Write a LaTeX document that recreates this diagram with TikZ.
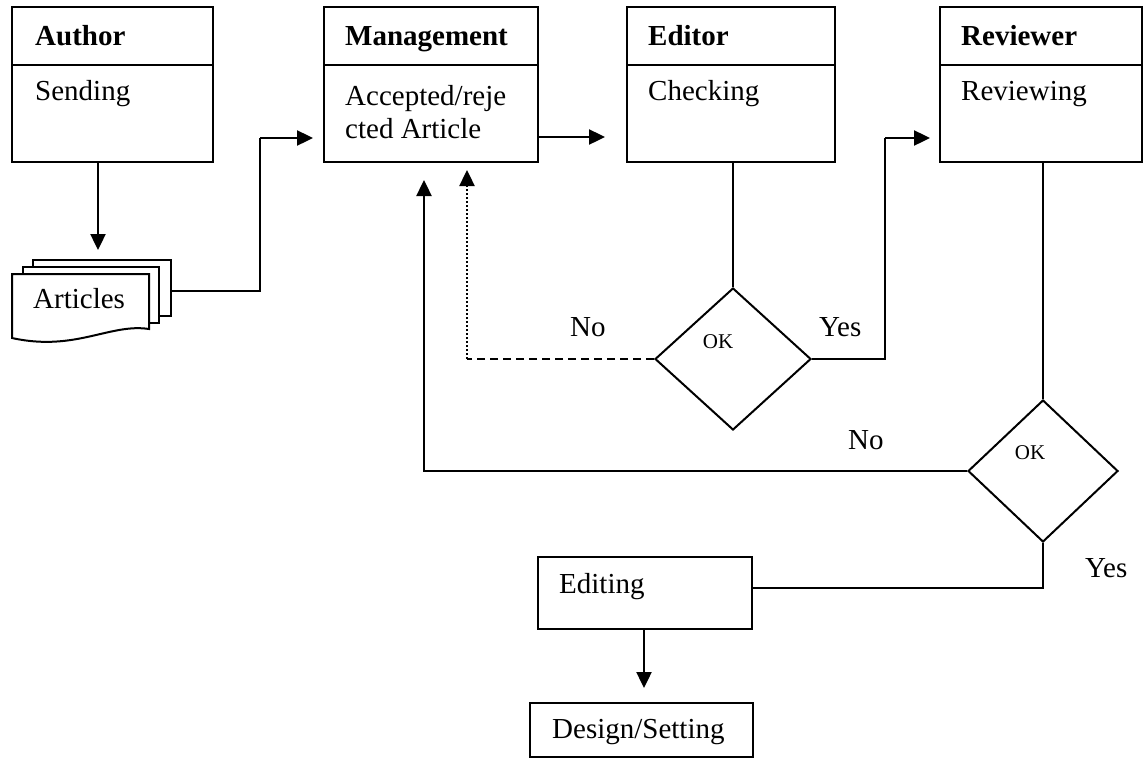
\documentclass[tikz,border=0pt]{standalone}
\usepackage{fontspec}
\setmainfont{Liberation Serif}
\usetikzlibrary{arrows.meta,shapes.geometric,calc}
\tikzset{
  box/.style={draw,line width=2pt,inner sep=0pt,fill=white},
  lbl/.style={inner sep=0pt,anchor=base west,font=\fontsize{29}{33}\selectfont},
  bold/.style={lbl,font=\fontsize{29}{33}\selectfont\bfseries},
  oktext/.style={inner sep=0pt,font=\fontsize{21}{24}\selectfont},
  dia/.style={draw,diamond,line width=2pt,inner sep=0pt,minimum width=#1},
  conn/.style={line width=2pt},
  tip/.style={-{Triangle[length=16pt,width=15pt]}},
  arr/.style={line width=2.4pt,tip},
}
\begin{document}
\begin{tikzpicture}[x=1pt,y=-1pt]
\useasboundingbox (0,0) rectangle (1144,761);
% swimlane boxes
\node[box,minimum width=201pt,minimum height=155pt] (author) at (112.5,84.5) {};
\node[box,minimum width=214pt,minimum height=155pt] (mgmt) at (431,84.5) {};
\node[box,minimum width=208pt,minimum height=155pt] (editor) at (731,84.5) {};
\node[box,minimum width=202pt,minimum height=155pt] (reviewer) at (1041,84.5) {};
\foreach \n in {author,mgmt,editor,reviewer}{
  \draw[conn] ($(\n.north west)+(0,59)$) -- ($(\n.north east)+(0,59)$);
}
\node[bold] (tA) at (35,45) {Author};
\node[lbl] (tA2) at (35,100) {Sending};
\node[bold] (tM) at (345,45) {Management};
\node[lbl] (tM2) at (345,105) {Accepted/reje};
\node[lbl] (tM3) at (345,138) {cted Article};
\node[bold] (tE) at (648,45) {Editor};
\node[lbl] (tE2) at (648,100) {Checking};
\node[bold] (tR) at (961,45) {Reviewer};
\node[lbl] (tR2) at (961,100) {Reviewing};
% articles stack
\draw[conn,fill=white] (33,260) rectangle (171,316);
\draw[conn,fill=white] (23,267) rectangle (159,323);
\draw[conn,fill=white] (12,274) -- (149,274) -- (149,329)
  .. controls (110,323) and (75,352) .. (12,338) -- cycle;
\node[lbl] (tArt) at (33,308) {Articles};
\coordinate (stackE) at (171,291);
\coordinate (stackN) at (98,260);
% diamonds
\node[dia=156pt,minimum height=142pt] (d1) at (733,359) {};
\node[oktext] (ok1) at (718,342) {OK};
\node[dia=150pt,minimum height=142pt] (d2) at (1043,471) {};
\node[oktext] (ok2) at (1030,453) {OK};
% lower boxes
\node[box,minimum width=214pt,minimum height=72pt] (editing) at (645,593) {};
\node[lbl] (tEd) at (559,593) {Editing};
\node[box,minimum width=223pt,minimum height=54pt] (design) at (641.5,730) {};
\node[lbl] (tDs) at (552,738) {Design/Setting};
% labels
\node[lbl] (no1) at (570,336) {No};
\node[lbl] (yes1) at (819,336) {Yes};
\node[lbl] (no2) at (848,449) {No};
\node[lbl] (yes2) at (1085,577) {Yes};
% connectors
\draw[arr,shorten >=10pt] (98,162) -- (stackN);
\draw[conn] (stackE) -- (260,291) -- (260,138);
\draw[arr,shorten >=10pt] (260,138) -- (mgmt.west |- 0,138);
\draw[arr,shorten >=21pt] (mgmt.east |- 0,137) -- (editor.west |- 0,137);
\draw[conn] (d1.north) -- (d1.north |- editor.south);
\draw[conn] (d1.east) -- (885,359) -- (885,138);
\draw[arr,shorten >=9pt] (885,138) -- (reviewer.west |- 0,138);
\coordinate (mgA) at (467,162);
\coordinate (mgB) at (424,162);
\draw[line width=2pt,dash pattern=on 8pt off 5pt] (d1.west) -- (467,359);
\draw[line width=2pt,dash pattern=on 2pt off 2pt] (467,359) -- (467,186);
\draw[line width=2.4pt,tip,shorten >=8pt] (467,186) -- (mgA);
\draw[conn] (d2.north) -- (d2.north |- reviewer.south);
\draw[conn] (d2.west) -- (424,471) -- (424,200);
\draw[arr,shorten >=18pt] (424,200) -- (mgB);
\draw[conn] (d2.south) -- (d2.south |- 0,588) -- (editing.east |- 0,588);
\draw[arr,shorten >=14pt] (644,629) -- (design.north -| 644,0);
\end{tikzpicture}
\end{document}
